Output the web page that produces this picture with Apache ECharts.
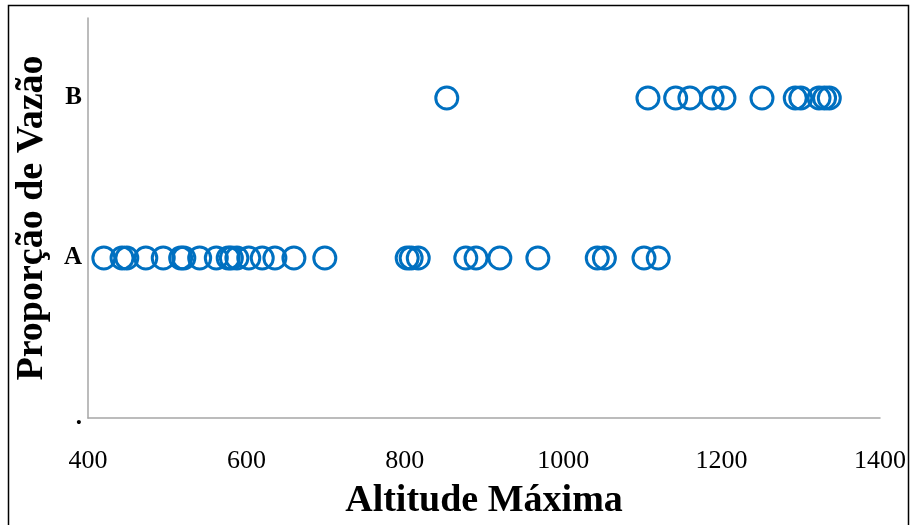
<!DOCTYPE html>
<html>
<head>
<meta charset="utf-8">
<script src="https://cdn.jsdelivr.net/npm/echarts@6/dist/echarts.min.js"></script>
<style>
  html, body { margin: 0; padding: 0; background: #fff; }
  #chart { width: 913px; height: 525px; }
</style>
</head>
<body>
<div id="chart"></div>
<script>
// Altitude values for each flow-proportion class
const altitudesA = [420, 443, 449, 473, 495, 517, 521, 541, 562, 577, 581, 588, 603, 620, 636, 660, 699,
                    803, 808, 817, 877, 890, 920, 968, 1043, 1052, 1102, 1120];
const altitudesB = [853, 1107, 1142, 1160, 1188, 1203, 1251, 1293, 1300, 1323, 1330, 1336];
const classLabels = { 0: '.', 1: 'A', 2: 'B' };
const xTicks = [400, 600, 800, 1000, 1200, 1400];

const points = altitudesA.map(v => [v, 1]).concat(altitudesB.map(v => [v, 2]));

const chart = echarts.init(document.getElementById('chart'));
chart.setOption({
  animation: false,
  backgroundColor: '#fff',
  grid: { left: 88, top: 18, right: 33, bottom: 107, containLabel: false, outerBoundsMode: 'none' },
  graphic: [{
    type: 'rect',
    shape: { x: 8.5, y: 5.5, width: 900, height: 530 },
    style: { fill: 'none', stroke: '#000', lineWidth: 1.5 },
    silent: true
  }],
  xAxis: {
    type: 'value',
    min: xTicks[0],
    max: xTicks[xTicks.length - 1],
    interval: 200,
    axisLine: { show: true, lineStyle: { color: '#a6a6a6', width: 1.5 } },
    axisTick: { show: false },
    splitLine: { show: false },
    axisLabel: {
      margin: 30,
      fontFamily: 'Liberation Serif',
      fontSize: 26,
      color: '#000',
      formatter: v => String(v)
    },
    name: 'Altitude Máxima',
    nameLocation: 'middle',
    nameGap: 64,
    nameTextStyle: { fontFamily: 'Liberation Serif', fontWeight: 'bold', fontSize: 38, color: '#000' }
  },
  yAxis: {
    type: 'value',
    min: 0,
    max: 2.5,
    interval: 1,
    axisLine: { show: true, lineStyle: { color: '#a6a6a6', width: 1.5 } },
    axisTick: { show: false },
    splitLine: { show: false },
    axisLabel: {
      margin: 6,
      fontFamily: 'Liberation Serif',
      fontWeight: 'bold',
      fontSize: 25,
      color: '#000',
      formatter: v => classLabels[v] || ''
    },
    name: 'Proporção de Vazão',
    nameLocation: 'middle',
    nameGap: 37,
    nameRotate: 90,
    nameTextStyle: { fontFamily: 'Liberation Serif', fontWeight: 'bold', fontSize: 38, color: '#000' }
  },
  series: [{
    type: 'scatter',
    data: points,
    symbol: 'circle',
    symbolSize: 22,
    itemStyle: { color: 'rgba(0,0,0,0)', borderColor: '#0070c0', borderWidth: 3, opacity: 1 }
  }]
});
</script>
</body>
</html>
